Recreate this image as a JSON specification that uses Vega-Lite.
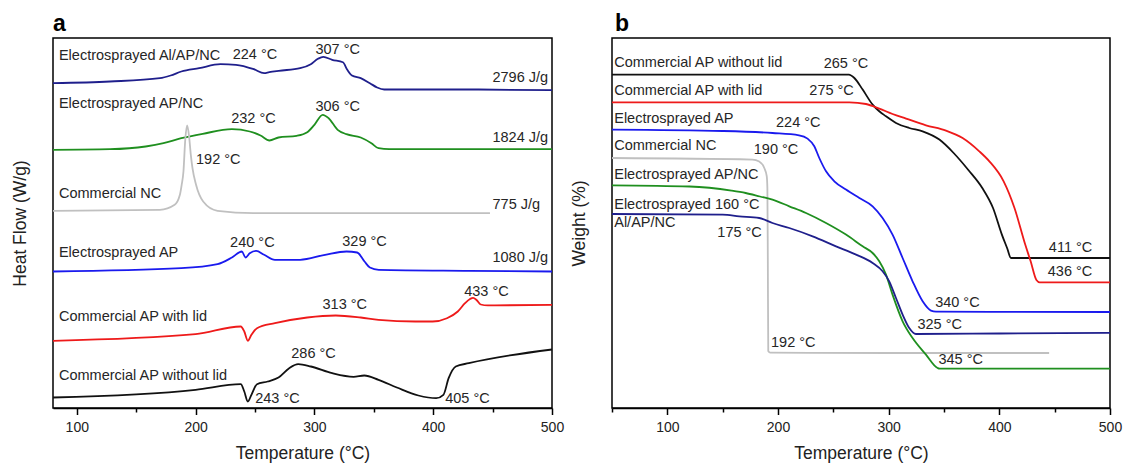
{
  "$schema": "https://vega.github.io/schema/vega-lite/v6.json",
  "padding": {"left": 10, "top": 12, "right": 8, "bottom": 0},
  "spacing": 4,
  "config": {
    "font": "Liberation Sans",
    "view": {"stroke": "#000", "strokeWidth": 1.5},
    "axis": {"grid": false, "domainColor": "#000", "domainWidth": 1.5, "tickColor": "#000", "tickWidth": 1.5, "labelColor": "#222", "titleColor": "#222", "labelFontSize": 14, "titleFontSize": 17.5, "titleFontWeight": "normal", "labelFont": "Liberation Sans", "titleFont": "Liberation Sans"},
    "text": {"color": "#262626", "font": "Liberation Sans", "fontSize": 14.5, "baseline": "middle"}
  },
  "datasets": {
    "dsc": [
      {"s": "AlAPNC", "t": 80, "v": 324.8}, {"s": "AlAPNC", "t": 128, "v": 326.5}, {"s": "AlAPNC", "t": 170, "v": 329.8}, {"s": "AlAPNC", "t": 179, "v": 332.5}, {"s": "AlAPNC", "t": 188, "v": 336.5}, {"s": "AlAPNC", "t": 203, "v": 339.8}, {"s": "AlAPNC", "t": 221, "v": 343.8}, {"s": "AlAPNC", "t": 234, "v": 343.2}, {"s": "AlAPNC", "t": 249, "v": 338.8}, {"s": "AlAPNC", "t": 257.7, "v": 334.8}, {"s": "AlAPNC", "t": 262, "v": 335.8}, {"s": "AlAPNC", "t": 270, "v": 337.2}, {"s": "AlAPNC", "t": 288, "v": 339.8}, {"s": "AlAPNC", "t": 297, "v": 343.8}, {"s": "AlAPNC", "t": 303, "v": 349.2}, {"s": "AlAPNC", "t": 307.5, "v": 351.2}, {"s": "AlAPNC", "t": 315, "v": 348.2}, {"s": "AlAPNC", "t": 324, "v": 345.8}, {"s": "AlAPNC", "t": 327.7, "v": 338.2}, {"s": "AlAPNC", "t": 331.6, "v": 332.5}, {"s": "AlAPNC", "t": 339, "v": 329.8}, {"s": "AlAPNC", "t": 346.7, "v": 324.8}, {"s": "AlAPNC", "t": 352.8, "v": 320.5}, {"s": "AlAPNC", "t": 358.8, "v": 318.5}, {"s": "AlAPNC", "t": 430, "v": 318.5}, {"s": "AlAPNC", "t": 500, "v": 317.8},
      {"s": "APNC", "t": 80, "v": 258.2}, {"s": "APNC", "t": 128, "v": 258.8}, {"s": "APNC", "t": 158, "v": 261.5}, {"s": "APNC", "t": 173, "v": 264.8}, {"s": "APNC", "t": 188, "v": 269.8}, {"s": "APNC", "t": 206, "v": 274.2}, {"s": "APNC", "t": 230.6, "v": 278.8}, {"s": "APNC", "t": 245.6, "v": 276.5}, {"s": "APNC", "t": 254.7, "v": 272.5}, {"s": "APNC", "t": 262.2, "v": 267.5}, {"s": "APNC", "t": 269.8, "v": 270.5}, {"s": "APNC", "t": 285, "v": 272.2}, {"s": "APNC", "t": 294, "v": 275.8}, {"s": "APNC", "t": 300, "v": 283.2}, {"s": "APNC", "t": 307, "v": 293.2}, {"s": "APNC", "t": 312, "v": 289.8}, {"s": "APNC", "t": 319.6, "v": 278.2}, {"s": "APNC", "t": 327, "v": 273.8}, {"s": "APNC", "t": 339, "v": 270.5}, {"s": "APNC", "t": 348, "v": 264.8}, {"s": "APNC", "t": 354, "v": 259.8}, {"s": "APNC", "t": 363, "v": 258.8}, {"s": "APNC", "t": 500, "v": 258.8},
      {"s": "NC", "t": 80, "v": 197.2}, {"s": "NC", "t": 170, "v": 198.2}, {"s": "NC", "t": 182.4, "v": 203.2}, {"s": "NC", "t": 186.8, "v": 213.2}, {"s": "NC", "t": 188.3, "v": 223.2}, {"s": "NC", "t": 189.8, "v": 236.5}, {"s": "NC", "t": 191.3, "v": 268}, {"s": "NC", "t": 192.9, "v": 282.5}, {"s": "NC", "t": 194.5, "v": 272}, {"s": "NC", "t": 196, "v": 253.2}, {"s": "NC", "t": 197.4, "v": 239.8}, {"s": "NC", "t": 200.4, "v": 223.2}, {"s": "NC", "t": 206.4, "v": 206.5}, {"s": "NC", "t": 218.5, "v": 197.2}, {"s": "NC", "t": 248.7, "v": 194.8}, {"s": "NC", "t": 447.8, "v": 194.8},
      {"s": "AP", "t": 80, "v": 136.5}, {"s": "AP", "t": 188, "v": 139.8}, {"s": "AP", "t": 218.5, "v": 143.8}, {"s": "AP", "t": 230.6, "v": 150.5}, {"s": "AP", "t": 239, "v": 156.5}, {"s": "AP", "t": 242, "v": 150.5}, {"s": "AP", "t": 245.6, "v": 154.8}, {"s": "AP", "t": 251, "v": 157.2}, {"s": "AP", "t": 257.7, "v": 153.2}, {"s": "AP", "t": 266.8, "v": 148.2}, {"s": "AP", "t": 288, "v": 148.2}, {"s": "AP", "t": 309, "v": 153.2}, {"s": "AP", "t": 327, "v": 156.5}, {"s": "AP", "t": 336, "v": 155.5}, {"s": "AP", "t": 342.2, "v": 146.5}, {"s": "AP", "t": 346.7, "v": 140.5}, {"s": "AP", "t": 354.2, "v": 138.2}, {"s": "AP", "t": 430, "v": 137.2}, {"s": "AP", "t": 500, "v": 136.5},
      {"s": "APlid", "t": 80, "v": 67.2}, {"s": "APlid", "t": 200, "v": 73.8}, {"s": "APlid", "t": 238, "v": 81.5}, {"s": "APlid", "t": 241, "v": 76.5}, {"s": "APlid", "t": 244, "v": 67.2}, {"s": "APlid", "t": 247, "v": 73.2}, {"s": "APlid", "t": 251.7, "v": 79.8}, {"s": "APlid", "t": 266.8, "v": 84.8}, {"s": "APlid", "t": 294, "v": 90.5}, {"s": "APlid", "t": 318, "v": 92.5}, {"s": "APlid", "t": 339, "v": 90.5}, {"s": "APlid", "t": 354, "v": 88.2}, {"s": "APlid", "t": 385, "v": 86.5}, {"s": "APlid", "t": 399.5, "v": 86.5}, {"s": "APlid", "t": 411.6, "v": 89.8}, {"s": "APlid", "t": 420.7, "v": 96.5}, {"s": "APlid", "t": 426.8, "v": 104.8}, {"s": "APlid", "t": 431, "v": 109}, {"s": "APlid", "t": 433.6, "v": 110.2}, {"s": "APlid", "t": 436.5, "v": 108}, {"s": "APlid", "t": 440, "v": 103.5}, {"s": "APlid", "t": 446, "v": 102.6}, {"s": "APlid", "t": 500, "v": 103.2},
      {"s": "APnolid", "t": 80, "v": 10.5}, {"s": "APnolid", "t": 200, "v": 18.2}, {"s": "APnolid", "t": 238, "v": 23.8}, {"s": "APnolid", "t": 241, "v": 16.5}, {"s": "APnolid", "t": 244, "v": 6.5}, {"s": "APnolid", "t": 247, "v": 13.2}, {"s": "APnolid", "t": 251.7, "v": 23.8}, {"s": "APnolid", "t": 260.7, "v": 26.5}, {"s": "APnolid", "t": 269.8, "v": 30.5}, {"s": "APnolid", "t": 278.8, "v": 39.8}, {"s": "APnolid", "t": 286.4, "v": 43.8}, {"s": "APnolid", "t": 297, "v": 41.5}, {"s": "APnolid", "t": 315, "v": 34.8}, {"s": "APnolid", "t": 333, "v": 31.2}, {"s": "APnolid", "t": 342, "v": 32.5}, {"s": "APnolid", "t": 354, "v": 28.2}, {"s": "APnolid", "t": 369.4, "v": 20.5}, {"s": "APnolid", "t": 387.5, "v": 12.5}, {"s": "APnolid", "t": 402.5, "v": 9.8}, {"s": "APnolid", "t": 408.6, "v": 13.2}, {"s": "APnolid", "t": 413, "v": 29.8}, {"s": "APnolid", "t": 419, "v": 41.5}, {"s": "APnolid", "t": 430, "v": 44.8}, {"s": "APnolid", "t": 500, "v": 58.5}
    ],
    "dscLabels": [
      {"t": 85, "v": 352, "text": "Electrosprayed Al/AP/NC", "a": "left"},
      {"t": 85, "v": 304, "text": "Electrosprayed AP/NC", "a": "left"},
      {"t": 200.4, "v": 248.5, "text": "192 °C", "a": "left"},
      {"t": 85, "v": 213.8, "text": "Commercial NC", "a": "left"},
      {"t": 85, "v": 155.5, "text": "Electrosprayed AP", "a": "left"},
      {"t": 85, "v": 91.5, "text": "Commercial AP with lid", "a": "left"},
      {"t": 85, "v": 32.5, "text": "Commercial AP without lid", "a": "left"},
      {"t": 250.2, "v": 8.8, "text": "243 °C", "a": "left"},
      {"t": 410.1, "v": 8.8, "text": "405 °C", "a": "left"},
      {"t": 250, "v": 353.5, "text": "224 °C", "a": "center"},
      {"t": 319.6, "v": 358.5, "text": "307 °C", "a": "center"},
      {"t": 248.7, "v": 289.2, "text": "232 °C", "a": "center"},
      {"t": 319.6, "v": 301.5, "text": "306 °C", "a": "center"},
      {"t": 247.8, "v": 164.8, "text": "240 °C", "a": "center"},
      {"t": 342.2, "v": 165.8, "text": "329 °C", "a": "center"},
      {"t": 325.6, "v": 103.5, "text": "313 °C", "a": "center"},
      {"t": 444.8, "v": 116.5, "text": "433 °C", "a": "center"},
      {"t": 299.3, "v": 53.8, "text": "286 °C", "a": "center"},
      {"t": 496.7, "v": 329.8, "text": "2796 J/g", "a": "right"},
      {"t": 496.7, "v": 270.5, "text": "1824 J/g", "a": "right"},
      {"t": 490, "v": 203.5, "text": "775 J/g", "a": "right"},
      {"t": 496.7, "v": 150, "text": "1080 J/g", "a": "right"}
    ],
    "tga": [
      {"s": "APnolid", "t": 50, "v": 333.4}, {"s": "APnolid", "t": 264, "v": 333.4}, {"s": "APnolid", "t": 269, "v": 330}, {"s": "APnolid", "t": 276.5, "v": 318.4}, {"s": "APnolid", "t": 285.5, "v": 303.4}, {"s": "APnolid", "t": 291.5, "v": 296.7}, {"s": "APnolid", "t": 297.6, "v": 291.7}, {"s": "APnolid", "t": 306.6, "v": 285}, {"s": "APnolid", "t": 318.6, "v": 280}, {"s": "APnolid", "t": 330.7, "v": 276.7}, {"s": "APnolid", "t": 345.8, "v": 268.4}, {"s": "APnolid", "t": 358.7, "v": 255}, {"s": "APnolid", "t": 372, "v": 238}, {"s": "APnolid", "t": 384.6, "v": 220}, {"s": "APnolid", "t": 394.3, "v": 200}, {"s": "APnolid", "t": 402.3, "v": 173.4}, {"s": "APnolid", "t": 407, "v": 160}, {"s": "APnolid", "t": 410.5, "v": 150}, {"s": "APnolid", "t": 500, "v": 150},
      {"s": "APlid", "t": 50, "v": 305.7}, {"s": "APlid", "t": 264.5, "v": 305.7}, {"s": "APlid", "t": 279.5, "v": 304}, {"s": "APlid", "t": 291.5, "v": 299.4}, {"s": "APlid", "t": 303.5, "v": 294}, {"s": "APlid", "t": 315.7, "v": 289.4}, {"s": "APlid", "t": 333.7, "v": 282.7}, {"s": "APlid", "t": 351.8, "v": 277.4}, {"s": "APlid", "t": 366.8, "v": 270}, {"s": "APlid", "t": 381.9, "v": 256.7}, {"s": "APlid", "t": 391, "v": 246.7}, {"s": "APlid", "t": 403.9, "v": 226.7}, {"s": "APlid", "t": 413.7, "v": 200}, {"s": "APlid", "t": 423.4, "v": 163.4}, {"s": "APlid", "t": 428.3, "v": 146.7}, {"s": "APlid", "t": 433.5, "v": 128}, {"s": "APlid", "t": 436.5, "v": 125.7}, {"s": "APlid", "t": 500, "v": 125.7},
      {"s": "AP", "t": 50, "v": 278.4}, {"s": "AP", "t": 150, "v": 277}, {"s": "AP", "t": 195, "v": 275}, {"s": "AP", "t": 219, "v": 272.7}, {"s": "AP", "t": 226.7, "v": 269.4}, {"s": "AP", "t": 232.8, "v": 261.7}, {"s": "AP", "t": 237.3, "v": 250}, {"s": "AP", "t": 243.4, "v": 236.7}, {"s": "AP", "t": 250.9, "v": 226.7}, {"s": "AP", "t": 261.4, "v": 218.4}, {"s": "AP", "t": 273.5, "v": 210}, {"s": "AP", "t": 285.5, "v": 201.7}, {"s": "AP", "t": 294.5, "v": 190}, {"s": "AP", "t": 303.5, "v": 173.4}, {"s": "AP", "t": 312.6, "v": 150}, {"s": "AP", "t": 321.6, "v": 126.7}, {"s": "AP", "t": 330.7, "v": 106.7}, {"s": "AP", "t": 338.2, "v": 97.4}, {"s": "AP", "t": 342.8, "v": 96.4}, {"s": "AP", "t": 500, "v": 96},
      {"s": "NC", "t": 50, "v": 250}, {"s": "NC", "t": 177, "v": 248.4}, {"s": "NC", "t": 183, "v": 246.5}, {"s": "NC", "t": 187.6, "v": 240}, {"s": "NC", "t": 189.8, "v": 232}, {"s": "NC", "t": 190.4, "v": 220}, {"s": "NC", "t": 190.8, "v": 150}, {"s": "NC", "t": 191.2, "v": 57}, {"s": "NC", "t": 193, "v": 55.3}, {"s": "NC", "t": 300, "v": 55}, {"s": "NC", "t": 445, "v": 55},
      {"s": "APNC", "t": 50, "v": 222.7}, {"s": "APNC", "t": 120, "v": 221.5}, {"s": "APNC", "t": 158, "v": 217.4}, {"s": "APNC", "t": 170.8, "v": 215}, {"s": "APNC", "t": 183.7, "v": 211.5}, {"s": "APNC", "t": 195, "v": 208.4}, {"s": "APNC", "t": 210.2, "v": 201.7}, {"s": "APNC", "t": 225.3, "v": 195}, {"s": "APNC", "t": 243.4, "v": 185}, {"s": "APNC", "t": 261.4, "v": 173.4}, {"s": "APNC", "t": 276.5, "v": 161.7}, {"s": "APNC", "t": 285.5, "v": 155}, {"s": "APNC", "t": 291.5, "v": 146.7}, {"s": "APNC", "t": 297.6, "v": 133.4}, {"s": "APNC", "t": 303.5, "v": 113.4}, {"s": "APNC", "t": 312.6, "v": 86.7}, {"s": "APNC", "t": 321.6, "v": 70}, {"s": "APNC", "t": 333.7, "v": 53.4}, {"s": "APNC", "t": 344.2, "v": 40}, {"s": "APNC", "t": 346, "v": 39.4}, {"s": "APNC", "t": 500, "v": 39.4},
      {"s": "AlAPNC", "t": 50, "v": 194}, {"s": "AlAPNC", "t": 150, "v": 193.4}, {"s": "AlAPNC", "t": 165, "v": 191.7}, {"s": "AlAPNC", "t": 183, "v": 190}, {"s": "AlAPNC", "t": 195, "v": 185}, {"s": "AlAPNC", "t": 210.2, "v": 180}, {"s": "AlAPNC", "t": 231.3, "v": 171.7}, {"s": "AlAPNC", "t": 252.4, "v": 161.7}, {"s": "AlAPNC", "t": 270.5, "v": 153.4}, {"s": "AlAPNC", "t": 285.5, "v": 145}, {"s": "AlAPNC", "t": 294.5, "v": 136.7}, {"s": "AlAPNC", "t": 300.5, "v": 126.7}, {"s": "AlAPNC", "t": 306.6, "v": 110}, {"s": "AlAPNC", "t": 312.6, "v": 93.4}, {"s": "AlAPNC", "t": 318.6, "v": 80}, {"s": "AlAPNC", "t": 324.6, "v": 74}, {"s": "AlAPNC", "t": 400, "v": 74.5}, {"s": "AlAPNC", "t": 500, "v": 75.2}
    ],
    "tgaLabels": [
      {"t": 52, "v": 345, "text": "Commercial AP without lid", "a": "left"},
      {"t": 52, "v": 316.7, "text": "Commercial AP with lid", "a": "left"},
      {"t": 52, "v": 289, "text": "Electrosprayed AP", "a": "left"},
      {"t": 52, "v": 261.7, "text": "Commercial NC", "a": "left"},
      {"t": 52, "v": 233.4, "text": "Electrosprayed AP/NC", "a": "left"},
      {"t": 52, "v": 203.4, "text": "Electrosprayed 160 °C", "a": "left"},
      {"t": 52, "v": 185, "text": "Al/AP/NC", "a": "left"},
      {"t": 342, "v": 105, "text": "340 °C", "a": "left"},
      {"t": 326, "v": 83.4, "text": "325 °C", "a": "left"},
      {"t": 193.7, "v": 65, "text": "192 °C", "a": "left"},
      {"t": 345, "v": 48.4, "text": "345 °C", "a": "left"},
      {"t": 261.4, "v": 344.4, "text": "265 °C", "a": "center"},
      {"t": 248.4, "v": 316.7, "text": "275 °C", "a": "center"},
      {"t": 218.3, "v": 285, "text": "224 °C", "a": "center"},
      {"t": 198.2, "v": 258.4, "text": "190 °C", "a": "center"},
      {"t": 185.4, "v": 175, "text": "175 °C", "a": "right"},
      {"t": 484, "v": 160, "text": "411 °C", "a": "right"},
      {"t": 484, "v": 136, "text": "436 °C", "a": "right"}
    ]
  },
  "hconcat": [
    {
      "width": 499,
      "height": 370,
      "title": {"text": "a", "anchor": "start", "frame": "group", "fontSize": 23, "fontWeight": "bold", "color": "#000", "offset": 2},
      "layer": [
        {
          "data": {"name": "dsc"},
          "mark": {"type": "line", "strokeWidth": 1.8, "interpolate": "monotone"},
          "encoding": {
            "x": {"field": "t", "type": "quantitative", "title": "Temperature (°C)", "scale": {"domain": [80, 500], "nice": false, "zero": false},
              "axis": {"values": [100, 150, 200, 250, 300, 350, 400, 450, 500], "labelExpr": "datum.value % 100 === 0 ? datum.label : ''", "tickSize": {"condition": {"test": "datum.value % 100 === 0", "value": 6.5}, "value": 4}, "labelFlush": false, "labelPadding": 6, "titlePadding": 10}},
            "y": {"field": "v", "type": "quantitative", "title": "Heat Flow (W/g)", "scale": {"domain": [0, 370], "nice": false, "zero": false},
              "axis": {"labels": false, "ticks": false, "domain": false, "titlePadding": 24}},
            "color": {"field": "s", "type": "nominal", "legend": null,
              "scale": {"domain": ["AlAPNC", "APNC", "NC", "AP", "APlid", "APnolid"], "range": ["#1f1f8c", "#1f8f1f", "#c0c0c0", "#1a1aee", "#ee1a1a", "#111111"]}}
          }
        },
        {
          "data": {"name": "dscLabels"},
          "transform": [{"filter": "datum.a === 'left'"}],
          "mark": {"type": "text", "align": "left"},
          "encoding": {
            "x": {"field": "t", "type": "quantitative", "title": "Temperature (°C)"},
            "y": {"field": "v", "type": "quantitative", "title": "Heat Flow (W/g)"},
            "text": {"field": "text"}
          }
        },
        {
          "data": {"name": "dscLabels"},
          "transform": [{"filter": "datum.a === 'center'"}],
          "mark": {"type": "text", "align": "center"},
          "encoding": {
            "x": {"field": "t", "type": "quantitative", "title": "Temperature (°C)"},
            "y": {"field": "v", "type": "quantitative", "title": "Heat Flow (W/g)"},
            "text": {"field": "text"}
          }
        },
        {
          "data": {"name": "dscLabels"},
          "transform": [{"filter": "datum.a === 'right'"}],
          "mark": {"type": "text", "align": "right"},
          "encoding": {
            "x": {"field": "t", "type": "quantitative", "title": "Temperature (°C)"},
            "y": {"field": "v", "type": "quantitative", "title": "Heat Flow (W/g)"},
            "text": {"field": "text"}
          }
        }
      ]
    },
    {
      "width": 498,
      "height": 370,
      "title": {"text": "b", "anchor": "start", "frame": "group", "fontSize": 23, "fontWeight": "bold", "color": "#000", "offset": 2, "dx": 3},
      "layer": [
        {
          "data": {"name": "tga"},
          "mark": {"type": "line", "strokeWidth": 1.8, "interpolate": "monotone"},
          "encoding": {
            "x": {"field": "t", "type": "quantitative", "title": "Temperature (°C)", "scale": {"domain": [50, 500], "nice": false, "zero": false},
              "axis": {"values": [50, 100, 150, 200, 250, 300, 350, 400, 450, 500], "labelExpr": "datum.value % 100 === 0 ? datum.label : ''", "tickSize": {"condition": {"test": "datum.value % 100 === 0", "value": 6.5}, "value": 4}, "labelFlush": false, "labelPadding": 6, "titlePadding": 10}},
            "y": {"field": "v", "type": "quantitative", "title": "Weight (%)", "scale": {"domain": [0, 370], "nice": false, "zero": false},
              "axis": {"labels": false, "ticks": false, "domain": false, "titlePadding": 24}},
            "color": {"field": "s", "type": "nominal", "legend": null,
              "scale": {"domain": ["AlAPNC", "APNC", "NC", "AP", "APlid", "APnolid"], "range": ["#1f1f8c", "#1f8f1f", "#c0c0c0", "#1a1aee", "#ee1a1a", "#111111"]}}
          }
        },
        {
          "data": {"name": "tgaLabels"},
          "transform": [{"filter": "datum.a === 'left'"}],
          "mark": {"type": "text", "align": "left"},
          "encoding": {
            "x": {"field": "t", "type": "quantitative", "title": "Temperature (°C)"},
            "y": {"field": "v", "type": "quantitative", "title": "Weight (%)"},
            "text": {"field": "text"}
          }
        },
        {
          "data": {"name": "tgaLabels"},
          "transform": [{"filter": "datum.a === 'center'"}],
          "mark": {"type": "text", "align": "center"},
          "encoding": {
            "x": {"field": "t", "type": "quantitative", "title": "Temperature (°C)"},
            "y": {"field": "v", "type": "quantitative", "title": "Weight (%)"},
            "text": {"field": "text"}
          }
        },
        {
          "data": {"name": "tgaLabels"},
          "transform": [{"filter": "datum.a === 'right'"}],
          "mark": {"type": "text", "align": "right"},
          "encoding": {
            "x": {"field": "t", "type": "quantitative", "title": "Temperature (°C)"},
            "y": {"field": "v", "type": "quantitative", "title": "Weight (%)"},
            "text": {"field": "text"}
          }
        }
      ]
    }
  ]
}
